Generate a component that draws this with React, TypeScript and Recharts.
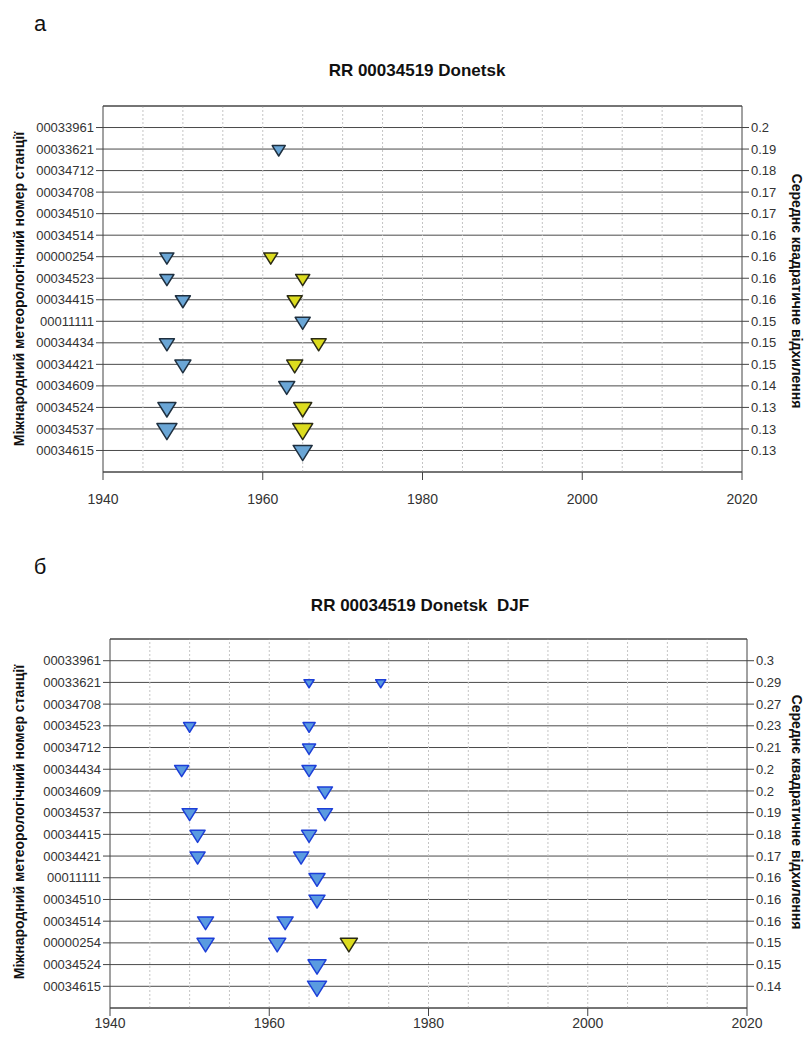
import React from "react";
import { ScatterChart, Scatter, XAxis, YAxis, ZAxis, CartesianGrid, ReferenceLine } from "recharts";

// ---- panel а ----
const stationsA = ["00033961", "00033621", "00034712", "00034708", "00034510", "00034514", "00000254", "00034523", "00034415", "00011111", "00034434", "00034421", "00034609", "00034524", "00034537", "00034615"];
const rmsA = [0.2, 0.19, 0.18, 0.17, 0.17, 0.16, 0.16, 0.16, 0.16, 0.15, 0.15, 0.15, 0.14, 0.13, 0.13, 0.13];
const weightA = [0, 0.27, 0, 0, 0, 0, 0.35, 0.35, 0.43, 0.43, 0.43, 0.52, 0.52, 0.72, 0.94, 0.83];
const blueStationA = ["00033621", "00000254", "00034523", "00034415", "00011111", "00034434", "00034421", "00034609", "00034524", "00034537", "00034615"];
const blueYearA = [1962, 1948, 1948, 1950, 1965, 1948, 1950, 1963, 1948, 1948, 1965];
const yellowStationA = ["00000254", "00034523", "00034415", "00034434", "00034421", "00034524", "00034537"];
const yellowYearA = [1961, 1965, 1964, 1967, 1964, 1965, 1965];

// ---- panel б (DJF) ----
const stationsB = ["00033961", "00033621", "00034708", "00034523", "00034712", "00034434", "00034609", "00034537", "00034415", "00034421", "00011111", "00034510", "00034514", "00000254", "00034524", "00034615"];
const rmsB = [0.3, 0.29, 0.27, 0.23, 0.21, 0.2, 0.2, 0.19, 0.18, 0.17, 0.16, 0.16, 0.16, 0.15, 0.15, 0.14];
const weightB = [0, 0.07, 0, 0.2, 0.27, 0.35, 0.43, 0.43, 0.43, 0.43, 0.52, 0.52, 0.52, 0.62, 0.72, 0.83];
const blueStationB = ["00033621", "00033621", "00034523", "00034523", "00034712", "00034434", "00034434", "00034609", "00034537", "00034537", "00034415", "00034415", "00034421", "00034421", "00011111", "00034510", "00034514", "00034514", "00000254", "00000254", "00034524", "00034615"];
const blueYearB = [1965, 1974, 1950, 1965, 1965, 1949, 1965, 1967, 1950, 1967, 1951, 1965, 1951, 1964, 1966, 1966, 1952, 1962, 1952, 1961, 1966, 1966];
const yellowStationB = ["00000254"];
const yellowYearB = [1970];

const yearTicks = [1940, 1960, 1980, 2000, 2020];
const yearGrid = [1945, 1950, 1955, 1960, 1965, 1970, 1975, 1980, 1985, 1990, 1995, 2000, 2005, 2010, 2015];
const rowTicks = stationsA.map((_, i) => i + 1);

function buildPoints(stations: string[], weights: number[], names: string[], years: number[]) {
  return names.map((s, i) => {
    const row = stations.indexOf(s) + 1;
    return { year: years[i], row, w: weights[row - 1] };
  });
}

const tri = (fill: string, stroke: string) => (props: any) => {
  const { cx, cy } = props;
  if (cx == null || cy == null) return <g />;
  const size = props.size ?? Math.PI * Math.pow((props.width || 12) / 2, 2);
  const s = 2 * Math.sqrt(size / Math.PI);
  const h = s * 0.8;
  const pts = `${cx - s / 2},${cy - h / 3} ${cx + s / 2},${cy - h / 3} ${cx},${cy + (2 * h) / 3}`;
  return <polygon points={pts} fill={fill} stroke={stroke} strokeWidth={1.5} strokeLinejoin="round" />;
};

type PanelProps = {
  stations: string[];
  rms: number[];
  blue: any[];
  yellow: any[];
  blueFill: string;
  blueStroke: string;
  labelGap: number;
  margin: { top: number; right: number; bottom: number; left: number };
};

function Panel({ stations, rms, blue, yellow, blueFill, blueStroke, labelGap, margin }: PanelProps) {
  return (
    <ScatterChart width={805} height={470} margin={margin}>
      <CartesianGrid yAxisId="left" vertical={false} stroke="#4a4a4a" strokeWidth={1} />
      {yearGrid.map((y) => (
        <ReferenceLine key={y} x={y} yAxisId="left" stroke="#c4c4c4" strokeDasharray="2 2" />
      ))}
      <ReferenceLine y={0} yAxisId="left" stroke="#444" />
      <XAxis
        type="number"
        dataKey="year"
        domain={[1940, 2020]}
        ticks={yearTicks}
        allowDataOverflow
        tickSize={8}
        tickMargin={labelGap}
        height={40}
        stroke="#444"
        tick={{ fill: "#333", fontSize: 14 }}
      />
      <YAxis
        yAxisId="left"
        type="number"
        dataKey="row"
        domain={[0, 17]}
        reversed
        ticks={rowTicks}
        interval={0}
        width={70}
        tickSize={7}
        stroke="#444"
        tick={{ fill: "#333", fontSize: 13 }}
        tickFormatter={(v: number) => stations[v - 1] ?? ""}
      />
      <YAxis
        yAxisId="right"
        orientation="right"
        type="number"
        dataKey="row"
        domain={[0, 17]}
        reversed
        ticks={rowTicks}
        interval={0}
        width={40}
        tickSize={7}
        stroke="#444"
        tick={{ fill: "#333", fontSize: 13, textAnchor: "start" }}
        tickFormatter={(v: number) => (rms[v - 1] != null ? String(rms[v - 1]) : "")}
      />
      <ZAxis type="number" dataKey="w" domain={[0, 1]} range={[60, 330]} />
      <Scatter yAxisId="left" data={blue} shape={tri(blueFill, blueStroke)} isAnimationActive={false} />
      <Scatter yAxisId="right" data={yellow} shape={tri("#dcdc1e", "#2b2b14")} isAnimationActive={false} />
    </ScatterChart>
  );
}

const abs = (left: number, top: number, extra: React.CSSProperties = {}): React.CSSProperties => ({
  position: "absolute",
  left,
  top,
  whiteSpace: "nowrap",
  ...extra,
});

export default function App() {
  const blueA = buildPoints(stationsA, weightA, blueStationA, blueYearA);
  const yellowA = buildPoints(stationsA, weightA, yellowStationA, yellowYearA);
  const blueB = buildPoints(stationsB, weightB, blueStationB, blueYearB);
  const yellowB = buildPoints(stationsB, weightB, yellowStationB, yellowYearB);

  const axisTitle: React.CSSProperties = { fontSize: 14, fontWeight: "bold", color: "#111" };
  const title: React.CSSProperties = { fontSize: 17, fontWeight: "bold", color: "#111", transform: "translate(-50%, -50%)" };
  const letter: React.CSSProperties = { fontSize: 22, color: "#111", transform: "translate(-50%, -50%)" };

  return (
    <div
      style={{
        position: "absolute",
        left: 0,
        top: 0,
        width: 805,
        height: 1040,
        overflow: "hidden",
        background: "#fff",
        fontFamily: "'Liberation Sans', Arial, sans-serif",
      }}
    >
      <div style={abs(40, 24, letter)}>а</div>
      <div style={abs(417, 71, title)}>RR 00034519 Donetsk</div>
      <div style={abs(0, 60)}>
        <Panel
          stations={stationsA}
          rms={rmsA}
          blue={blueA}
          yellow={yellowA}
          blueFill="#6aa6d6"
          blueStroke="#1e2f3f"
          labelGap={14}
          margin={{ top: 46, right: 23, bottom: 18, left: 33 }}
        />
      </div>
      <div style={abs(19, 289, { ...axisTitle, transform: "translate(-50%, -50%) rotate(-90deg)" })}>
        Міжнародний метеорологічний номер станції
      </div>
      <div style={abs(797, 291, { ...axisTitle, transform: "translate(-50%, -50%) rotate(90deg)" })}>
        Середнє квадратичне відхилення
      </div>

      <div style={abs(40, 567, letter)}>б</div>
      <div style={abs(420, 606, title)}>RR 00034519 Donetsk&nbsp;&nbsp;DJF</div>
      <div style={abs(0, 595)}>
        <Panel
          stations={stationsB}
          rms={rmsB}
          blue={blueB}
          yellow={yellowB}
          blueFill="#5a9be0"
          blueStroke="#1d3fd8"
          labelGap={2}
          margin={{ top: 44, right: 18, bottom: 17, left: 40 }}
        />
      </div>
      <div style={abs(19, 822, { ...axisTitle, transform: "translate(-50%, -50%) rotate(-90deg)" })}>
        Міжнародний метеорологічний номер станції
      </div>
      <div style={abs(797, 812, { ...axisTitle, transform: "translate(-50%, -50%) rotate(90deg)" })}>
        Середнє квадратичне відхилення
      </div>
    </div>
  );
}
